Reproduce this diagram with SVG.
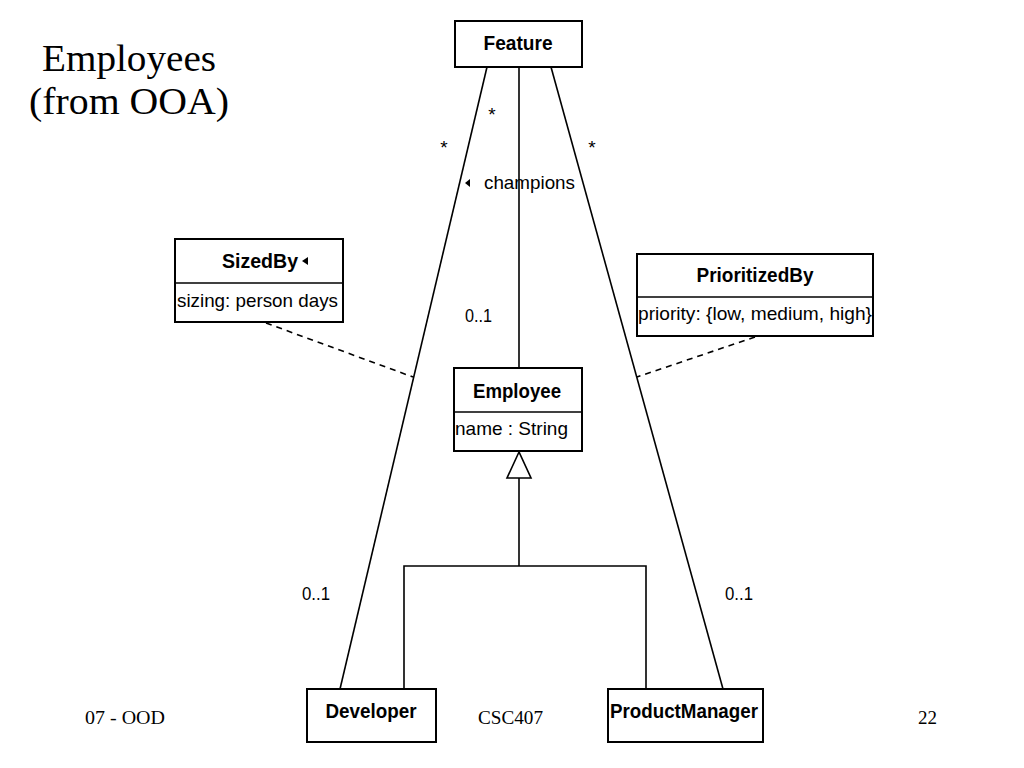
<svg xmlns="http://www.w3.org/2000/svg" width="1024" height="768" viewBox="0 0 1024 768">
<style>
.box{fill:#fff;stroke:#000;stroke-width:2}
.ln{fill:none;stroke:#000;stroke-width:1.6}
.dash{fill:none;stroke:#000;stroke-width:1.6;stroke-dasharray:6,5}
.cn{font-family:"Liberation Sans",Arial,sans-serif;font-weight:bold;font-size:21px;text-anchor:middle}
.at{font-family:"Liberation Sans",Arial,sans-serif;font-size:19px}
.lb{font-family:"Liberation Sans",Arial,sans-serif;font-size:19px}
.ft{font-family:"Liberation Serif","Times New Roman",serif;font-size:19px}
.tt{font-family:"Liberation Serif","Times New Roman",serif;font-size:37px;text-anchor:middle}
</style>
<rect width="1024" height="768" fill="#fff"/>
<g id="title">
<text class="tt" x="129" y="71" textLength="174" lengthAdjust="spacingAndGlyphs">Employees</text>
<text class="tt" x="129" y="114" textLength="200" lengthAdjust="spacingAndGlyphs">(from OOA)</text>
</g>
<g id="connectors">
<line class="ln" x1="519" y1="67" x2="519" y2="368"/>
<line class="ln" x1="487" y1="67" x2="340" y2="689"/>
<line class="ln" x1="551" y1="67" x2="723" y2="689"/>
<line class="dash" x1="266" y1="323" x2="413" y2="377"/>
<line class="dash" x1="755" y1="337" x2="637" y2="377"/>
<polyline class="ln" points="519,478 519,566"/>
<polyline class="ln" points="404,689 404,566 646,566 646,689"/>
<polygon points="519,452 507,478 531,478" fill="#fff" stroke="#000" stroke-width="1.6"/>
<text class="lb" x="492" y="121" text-anchor="middle">*</text>
<text class="lb" x="444" y="154" text-anchor="middle">*</text>
<text class="lb" x="592" y="154" text-anchor="middle">*</text>
<polygon points="465,183 470,179 470,187" fill="#000"/>
<text class="lb" x="484" y="189" textLength="91" lengthAdjust="spacingAndGlyphs">champions</text>
<text class="lb" x="465" y="322" textLength="27" lengthAdjust="spacingAndGlyphs">0..1</text>
<text class="lb" x="302" y="600" textLength="28" lengthAdjust="spacingAndGlyphs">0..1</text>
<text class="lb" x="725" y="600" textLength="28" lengthAdjust="spacingAndGlyphs">0..1</text>
</g>
<g id="Feature">
<rect class="box" x="455" y="21" width="127" height="46"/>
<text class="cn" x="518" y="50" textLength="69" lengthAdjust="spacingAndGlyphs">Feature</text>
</g>
<g id="SizedBy">
<rect class="box" x="175" y="239" width="168" height="83"/>
<line class="ln" x1="175" y1="283" x2="343" y2="283"/>
<text class="cn" x="260" y="268" textLength="76" lengthAdjust="spacingAndGlyphs">SizedBy</text>
<polygon points="302,261 308,257 308,265" fill="#000"/>
<text class="at" x="177" y="307" textLength="161" lengthAdjust="spacingAndGlyphs">sizing: person days</text>
</g>
<g id="Employee">
<rect class="box" x="454" y="368" width="128" height="83"/>
<line class="ln" x1="454" y1="412" x2="582" y2="412"/>
<text class="cn" x="517" y="398" textLength="88" lengthAdjust="spacingAndGlyphs">Employee</text>
<text class="at" x="455" y="435" textLength="113" lengthAdjust="spacingAndGlyphs">name : String</text>
</g>
<g id="PrioritizedBy">
<rect class="box" x="637" y="254" width="236" height="82"/>
<line class="ln" x1="637" y1="297" x2="873" y2="297"/>
<text class="cn" x="755" y="282" textLength="117" lengthAdjust="spacingAndGlyphs">PrioritizedBy</text>
<text class="at" x="638" y="320" textLength="234" lengthAdjust="spacingAndGlyphs">priority: {low, medium, high}</text>
</g>
<g id="Developer">
<rect class="box" x="307" y="689" width="129" height="53"/>
<text class="cn" x="371" y="718" textLength="91" lengthAdjust="spacingAndGlyphs">Developer</text>
</g>
<g id="ProductManager">
<rect class="box" x="608" y="689" width="155" height="53"/>
<text class="cn" x="684" y="718" textLength="148" lengthAdjust="spacingAndGlyphs">ProductManager</text>
</g>
<g id="footer">
<text class="ft" x="85" y="724" textLength="80" lengthAdjust="spacingAndGlyphs">07 - OOD</text>
<text class="ft" x="478" y="724" textLength="65" lengthAdjust="spacingAndGlyphs">CSC407</text>
<text class="ft" x="918" y="724">22</text>
</g>
</svg>
